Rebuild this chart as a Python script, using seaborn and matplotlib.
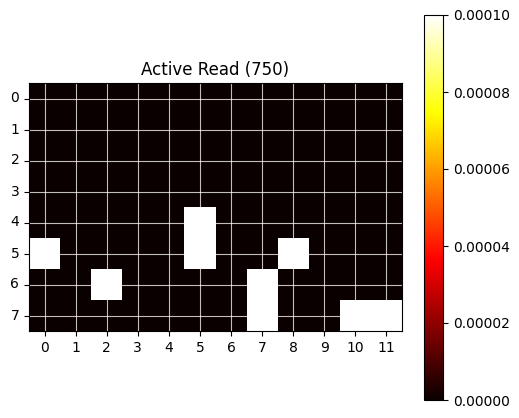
import numpy as np
import seaborn as sns
import matplotlib.pyplot as plt

# grid of reads, 8 rows x 12 columns
n_rows = 8
n_cols = 12
row_labels = [str(i) for i in range(n_rows)]
col_labels = [str(i) for i in range(n_cols)]

# cells that were read (row, col) and their value
active_cells = [(4, 5), (5, 0), (5, 5), (5, 8), (6, 2), (6, 7), (7, 7), (7, 10), (7, 11)]
active_value = 0.0001

vmin = 0.0
vmax = 0.0001
cbar_ticks = [0, 0.00002, 0.00004, 0.00006, 0.00008, 0.0001]
cbar_labels = ["0.00000", "0.00002", "0.00004", "0.00006", "0.00008", "0.00010"]
title = "Active Read (750)"

data = np.zeros((n_rows, n_cols))
for r, c in active_cells:
    data[r, c] = active_value

W, H = 519, 418
fig = plt.figure(figsize=(W / 100, H / 100), dpi=100)
ax = fig.add_axes([29 / W, (H - 331) / H, 373 / W, 248 / H])
cax = fig.add_axes([424 / W, (H - 400) / H, 19 / W, 385 / H])

sns.heatmap(data, cmap="hot", vmin=vmin, vmax=vmax,
            xticklabels=col_labels, yticklabels=row_labels,
            ax=ax, cbar_ax=cax)

# imshow-like look
ax.set_xticks(np.arange(n_cols) + 0.5)
ax.set_yticks(np.arange(n_rows) + 0.5)
ax.set_xticklabels(col_labels, rotation=0)
ax.set_yticklabels(row_labels, rotation=0)
ax.tick_params(length=3.5, width=0.8, labelsize=10)
for sp in ax.spines.values():
    sp.set_visible(True)
    sp.set_linewidth(0.8)
ax.grid(True, color="white", alpha=0.75, linewidth=0.8)
ax.set_title(title, fontsize=12)

cbar = ax.collections[0].colorbar
cbar.outline.set_linewidth(0.8)
cbar.outline.set_edgecolor("black")
cbar.set_ticks(cbar_ticks)
cbar.ax.set_yticklabels(cbar_labels)
cbar.ax.tick_params(length=3.5, width=0.8, labelsize=10)

plt.savefig("out.png", dpi=100)
